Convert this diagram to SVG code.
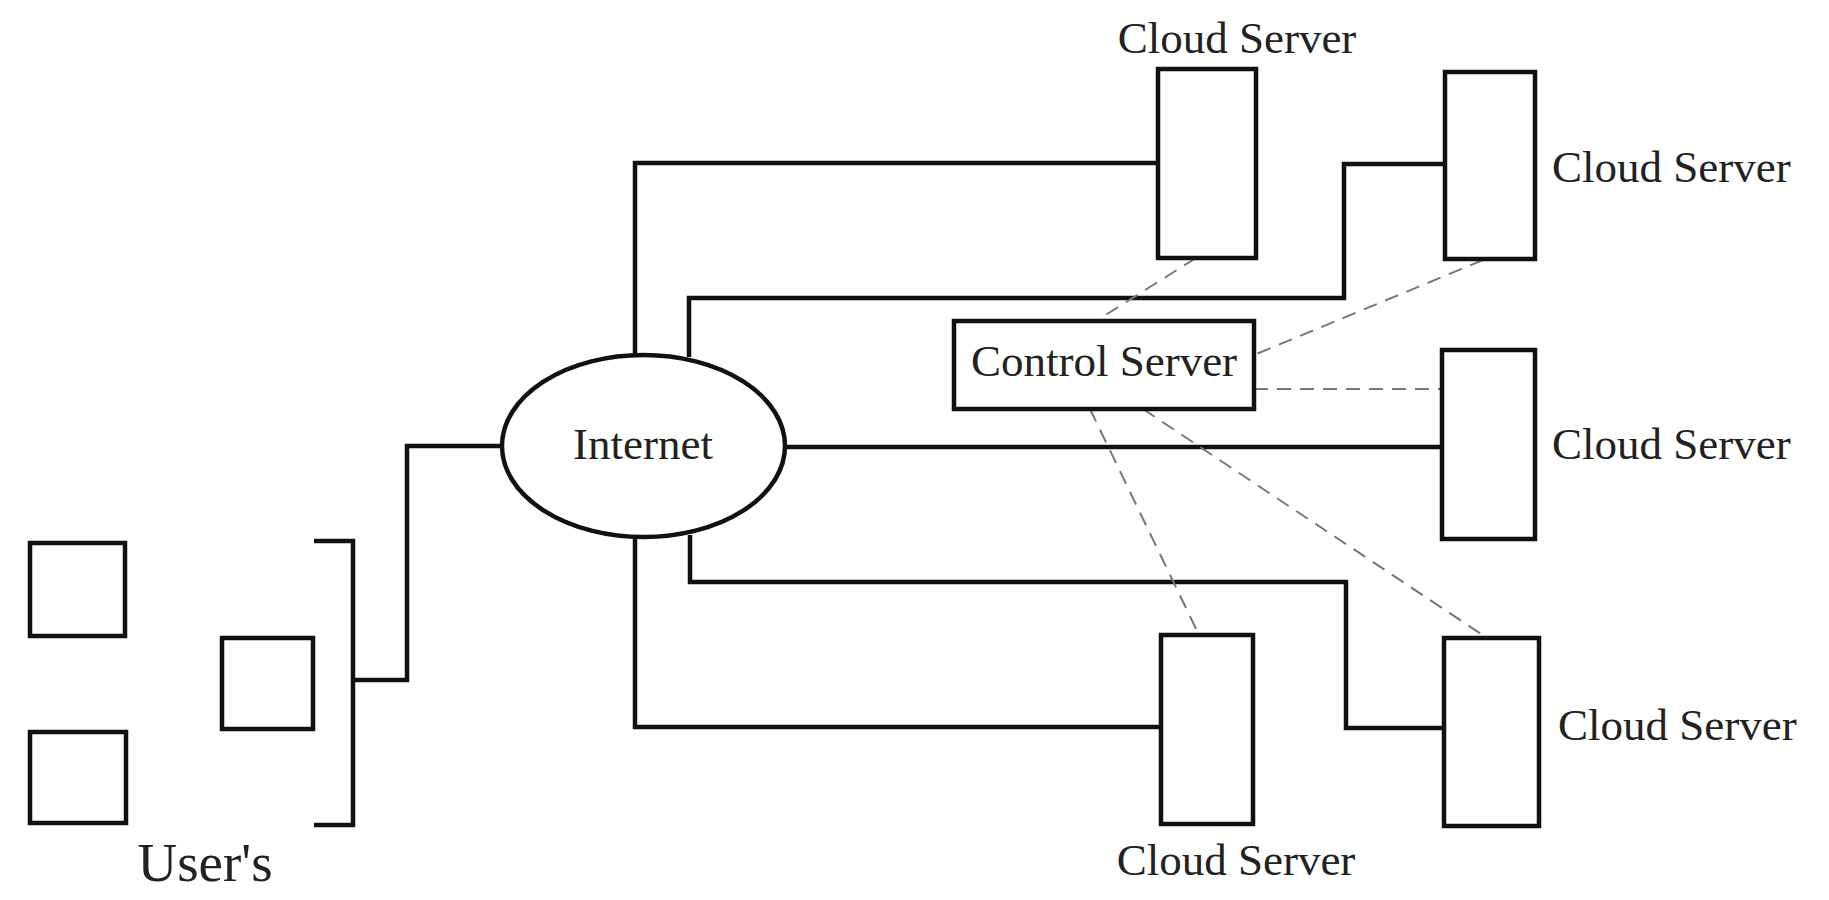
<svg xmlns="http://www.w3.org/2000/svg" width="1829" height="900" viewBox="0 0 1829 900">
<style>
.box{fill:#fff;stroke:#111;stroke-width:4.5}
.ln{fill:none;stroke:#111;stroke-width:4.5;stroke-linejoin:miter}
.dash{fill:none;stroke:#777;stroke-width:2;stroke-dasharray:14 9}
.lbl{font-family:"Liberation Serif","Times New Roman",serif;font-size:45px;fill:#222}
</style>
<rect width="1829" height="900" fill="#fff"/>
<g id="connectors">
<polyline class="ln" points="314,541 353,541 353,825 314,825"/>
<polyline class="ln" points="353,680 407,680 407,446 503,446"/>
<polyline class="ln" points="635,354 635,163 1158,163"/>
<polyline class="ln" points="689,357 689,298 1344,298 1344,164 1445,164"/>
<line class="ln" x1="784" y1="447" x2="1442" y2="447"/>
<polyline class="ln" points="690,535 690,582 1346,582 1346,728 1444,728"/>
<polyline class="ln" points="635,537 635,727 1161,727"/>
<line class="dash" x1="1196" y1="258" x2="1096" y2="321"/>
<line class="dash" x1="1483" y1="260" x2="1254" y2="355"/>
<line class="dash" x1="1254" y1="389" x2="1442" y2="389"/>
<line class="dash" x1="1090" y1="409" x2="1199" y2="635"/>
<line class="dash" x1="1143" y1="409" x2="1487" y2="638"/>
</g>
<g id="user1"><rect class="box" x="30" y="543" width="95" height="93"/></g>
<g id="user2"><rect class="box" x="222" y="638" width="91" height="91"/></g>
<g id="user3"><rect class="box" x="30" y="732" width="96" height="91"/></g>
<g id="users-label"><text class="lbl" x="205" y="881" text-anchor="middle" style="font-size:55px">User's</text></g>
<g id="internet">
<ellipse class="box" cx="643.5" cy="446" rx="141.5" ry="91"/>
<text class="lbl" x="643" y="459" text-anchor="middle">Internet</text>
</g>
<g id="control-server">
<rect class="box" x="954" y="321" width="300" height="88"/>
<text class="lbl" x="1104" y="376" text-anchor="middle">Control Server</text>
</g>
<g id="cloud-server-1">
<rect class="box" x="1158" y="69" width="98" height="189"/>
<text class="lbl" x="1237" y="53" text-anchor="middle">Cloud Server</text>
</g>
<g id="cloud-server-2">
<rect class="box" x="1445" y="72" width="90" height="187"/>
<text class="lbl" x="1552" y="182">Cloud Server</text>
</g>
<g id="cloud-server-3">
<rect class="box" x="1442" y="350" width="93" height="189"/>
<text class="lbl" x="1552" y="459">Cloud Server</text>
</g>
<g id="cloud-server-4">
<rect class="box" x="1161" y="635" width="92" height="189"/>
<text class="lbl" x="1236" y="875" text-anchor="middle">Cloud Server</text>
</g>
<g id="cloud-server-5">
<rect class="box" x="1444" y="638" width="95" height="188"/>
<text class="lbl" x="1558" y="740">Cloud Server</text>
</g>
</svg>
